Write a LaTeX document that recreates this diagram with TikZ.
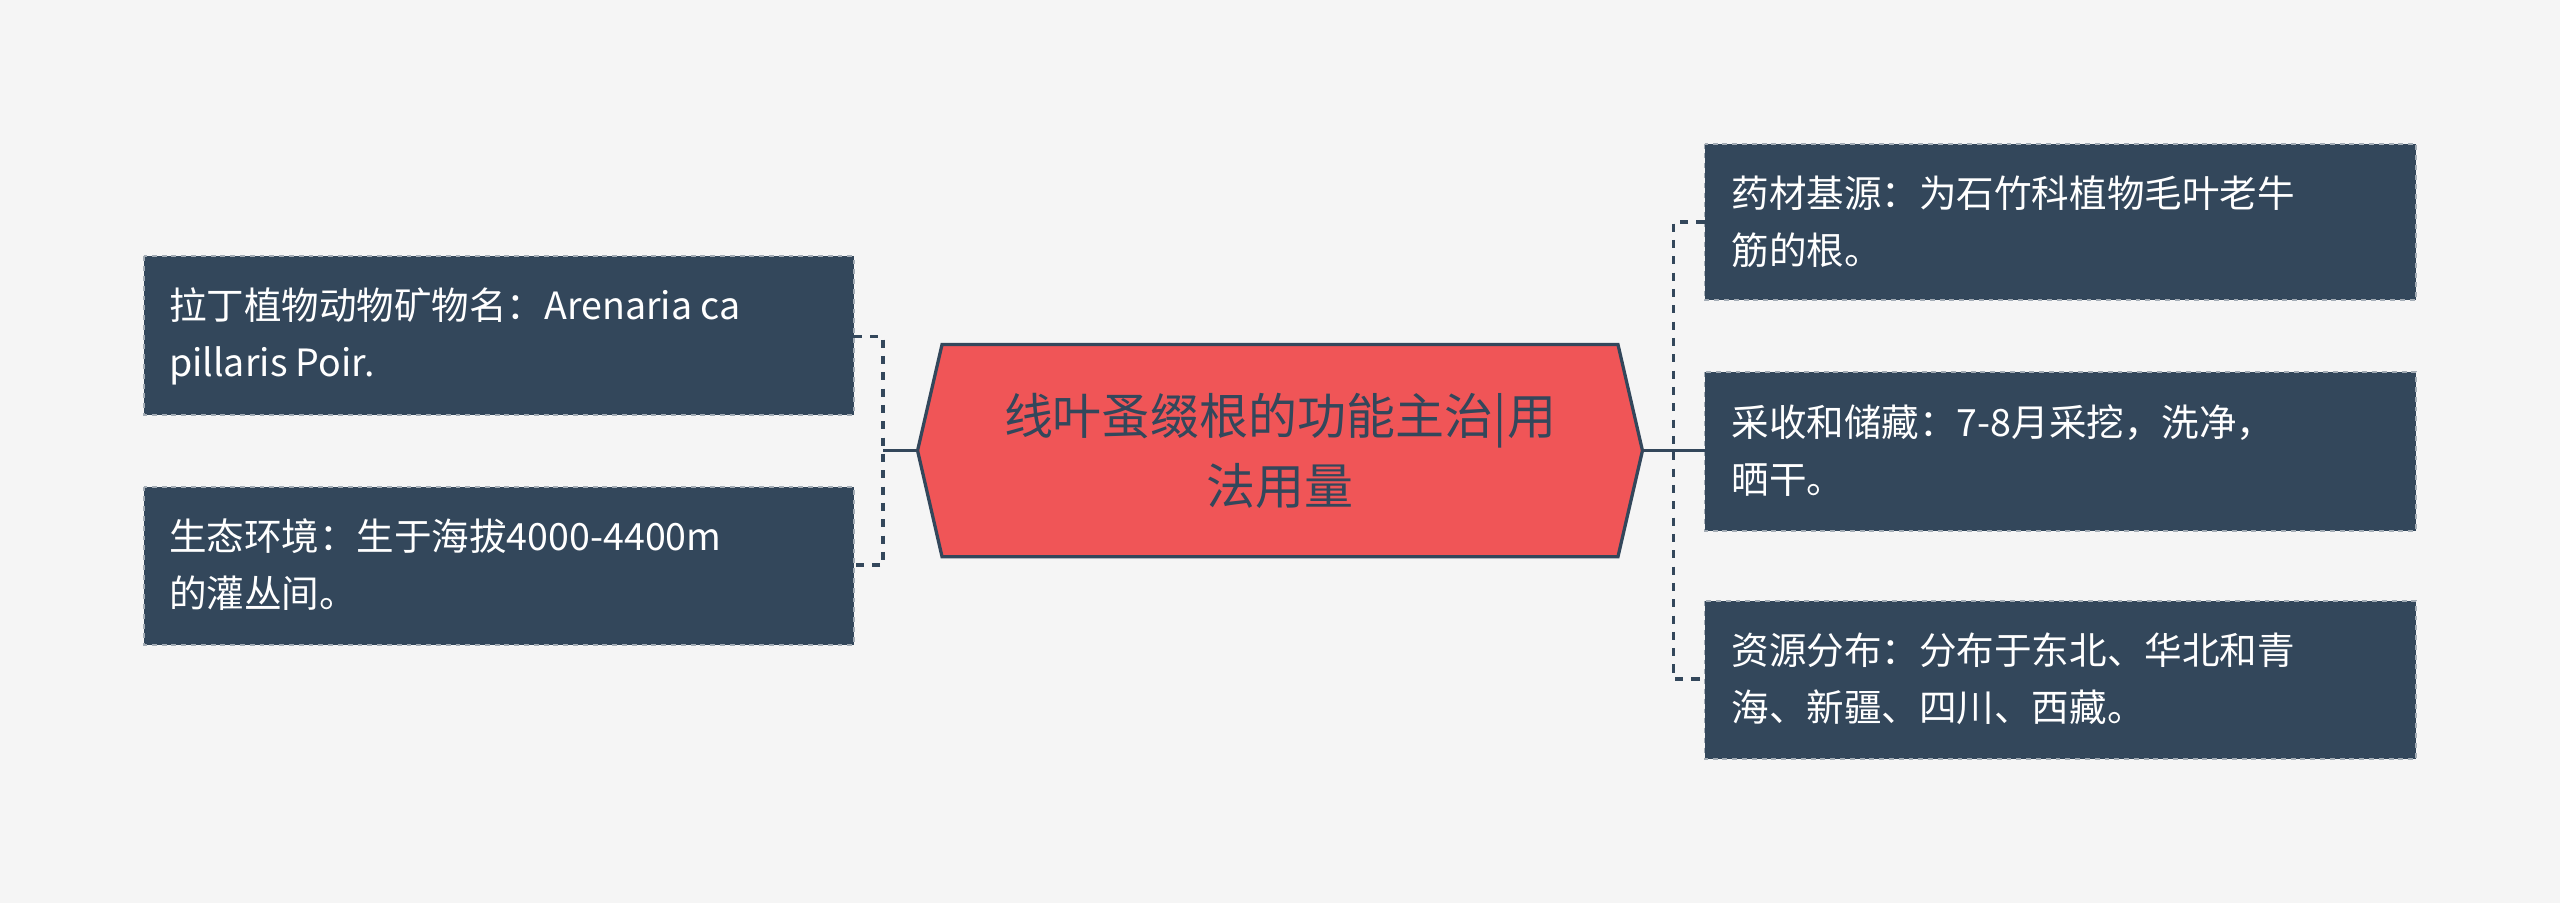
\documentclass[tikz,border=0pt]{standalone}
\usepackage{fontspec}
\setmainfont{Noto Sans CJK SC}
\definecolor{bg}{HTML}{F5F5F5}
\definecolor{boxc}{HTML}{33475B}
\definecolor{redc}{HTML}{F05557}
\definecolor{linec}{HTML}{33475B}
\begin{document}
\begin{tikzpicture}[x=1pt,y=-1pt,
  leaf/.style={draw=white!55!boxc,dashed,line width=1.2pt,fill=boxc,text=white,align=left,anchor=north west,inner xsep=13pt,inner ysep=0pt,
   font=\fontsize{23}{35}\selectfont},
  conn/.style={draw=linec,line width=2.2pt},
  dconn/.style={draw=linec,line width=2.2pt,dash pattern=on 5pt off 5pt}]
\fill[bg] (0,0) rectangle (1568,553);
\useasboundingbox (0,0) rectangle (1568,553);
% center
\draw[fill=redc,draw=linec,line width=2pt] (562,276) -- (577,211) -- (991,211) -- (1006,276) -- (991,341) -- (577,341) -- cycle;
\node[align=center,font=\fontsize{30}{43}\selectfont,text=boxc] (c) at (784,276) {线叶蚤缀根的功能主治|用\\法用量};
\coordinate (cl) at (562,276);
\coordinate (cr) at (1006,276);
% left boxes
\path[leaf] (88,157) rectangle (523,254);
\node[anchor=west,text=white,align=left,font=\fontsize{23}{35}\selectfont] (l1) at (100,206) {拉丁植物动物矿物名：Arenaria ca\\pillaris Poir.};
\path[leaf] (88,298) rectangle (523,395);
\node[anchor=west,text=white,align=left,font=\fontsize{23}{35}\selectfont] (l2) at (100,346) {生态环境：生于海拔4000-4400m\\的灌丛间。};
% right boxes
\path[leaf] (1044,88) rectangle (1480,184);
\node[anchor=west,text=white,align=left,font=\fontsize{23}{35}\selectfont] (r1) at (1057,136) {药材基源：为石竹科植物毛叶老牛\\筋的根。};
\path[leaf] (1044,228) rectangle (1480,325);
\node[anchor=west,text=white,align=left,font=\fontsize{23}{35}\selectfont] (r2) at (1057,276) {采收和储藏：7-8月采挖，洗净，\\晒干。};
\path[leaf] (1044,368) rectangle (1480,465);
\node[anchor=west,text=white,align=left,font=\fontsize{23}{35}\selectfont] (r3) at (1057,416) {资源分布：分布于东北、华北和青\\海、新疆、四川、西藏。};
% connectors
\coordinate (lj) at (541,276);
\coordinate (rj) at (1025,276);
\draw[conn] (cl) -- (lj);
\draw[dconn] (523,206) -- (541,206) -- (541,346) -- (523,346);
\draw[conn] (cr) -- (rj);
\draw[dconn] (1044,136) -- (1025,136) -- (1025,416) -- (1044,416);
\draw[conn] (1025,276) -- (1044,276);
\end{tikzpicture}
\end{document}
